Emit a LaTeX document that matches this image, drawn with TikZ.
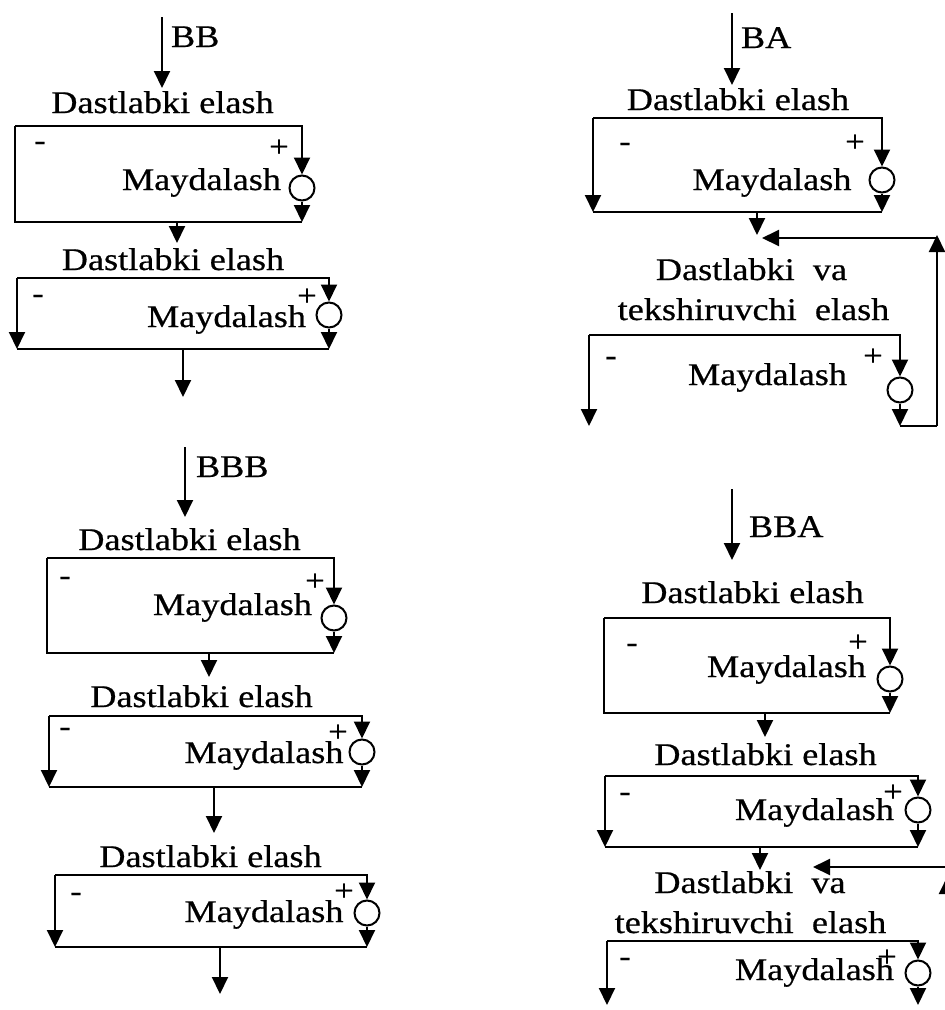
\documentclass[tikz,border=0pt]{standalone}
\usepackage{fontspec}
\setmainfont{Liberation Serif}[FakeStretch=1.15,FakeBold=0.6]
\usetikzlibrary{arrows.meta}

% One crushing stage: top feed line to the crusher valve on the right,
% valve outlet arrow down to the bottom level.
% #1 name, #2 left x, #3 right x, #4 top y, #5 valve y, #6 bottom y
\newcommand\mdunit[6]{%
  \coordinate (#1-tl) at (#2,#4);
  \coordinate (#1-tr) at (#3,#4);
  \coordinate (#1-bl) at (#2,#6);
  \coordinate (#1-br) at (#3,#6);
  \node[valve] (#1-c) at (#3,#5) {};
  \draw[flow] (#1-tl) -- (#1-tr) -- (#1-c.north);
  \draw[flow] (#1-c.south) -- (#1-br);
}

\begin{document}
\begin{tikzpicture}[x=1pt,y=-1pt,
  line width=2pt,
  flow/.style={-{Triangle[width=16pt,length=17pt]}},
  valve/.style={draw,circle,minimum size=25pt,inner sep=0pt},
  txt/.style={inner sep=0pt,anchor=base,font=\fontsize{31.5}{36}\selectfont},
  pm/.style={inner sep=0pt,font=\fontsize{30}{32}\selectfont},
]
\useasboundingbox (0,0) rectangle (945,1010);
\clip (0,0) rectangle (945,1010);

% ---------------- BB ----------------
\coordinate (bb-in) at (162,17);
\coordinate (bb-ine) at (162,88);
\draw[flow] (bb-in) -- (bb-ine);
\node[txt,anchor=base west] (bb-lbl) at (170,47) {BB};
\node[txt] (bb-d1) at (162.5,113) {Dastlabki elash};
\mdunit{bb1}{15}{302}{126}{188}{222}
\draw (bb1-tl) -- (bb1-bl) -- (bb1-br);
\node[pm] (bb1-minus) at (40,146) {-};
\node[pm] (bb1-plus) at (279,148) {+};
\node[txt] (bb1-m) at (201.5,190) {Maydalash};
\coordinate (bb-j1) at (177,222);
\coordinate (bb-j1e) at (177,243);
\draw[flow] (bb-j1) -- (bb-j1e);
\node[txt] (bb-d2) at (173,270) {Dastlabki elash};
\mdunit{bb2}{17}{329}{278}{315}{349}
\draw[flow] (bb2-tl) -- (bb2-bl);
\draw (bb2-bl) -- (bb2-br);
\node[pm] (bb2-minus) at (38,299) {-};
\node[pm] (bb2-plus) at (307,297) {+};
\node[txt] (bb2-m) at (226.5,327) {Maydalash};
\coordinate (bb-out) at (183,349);
\coordinate (bb-oute) at (183,397);
\draw[flow] (bb-out) -- (bb-oute);

% ---------------- BA ----------------
\coordinate (ba-in) at (732,13);
\coordinate (ba-ine) at (732,85);
\draw[flow] (ba-in) -- (ba-ine);
\node[txt,anchor=base west] (ba-lbl) at (740,48) {BA};
\node[txt] (ba-d1) at (738,110) {Dastlabki elash};
\mdunit{ba1}{593}{882}{118}{180}{212}
\draw[flow] (ba1-tl) -- (ba1-bl);
\draw (ba1-bl) -- (ba1-br);
\node[pm] (ba1-minus) at (625,147) {-};
\node[pm] (ba1-plus) at (855,143) {+};
\node[txt] (ba1-m) at (772,190) {Maydalash};
\coordinate (ba-j1) at (757,212);
\coordinate (ba-j1e) at (757,235);
\draw[flow] (ba-j1) -- (ba-j1e);
\node[txt] (ba-d2a) at (751.5,280) {Dastlabki\ \ va};
\node[txt] (ba-d2b) at (753.5,320) {tekshiruvchi\ \ elash};
\mdunit{ba2}{589}{900}{335}{390}{426}
\draw[flow] (ba2-tl) -- (ba2-bl);
\node[pm,font=\fontsize{30}{32}\selectfont\bfseries] (ba2-minus) at (611,361) {-};
\node[pm] (ba2-plus) at (873,357) {+};
\node[txt] (ba2-m) at (767.5,385) {Maydalash};
% recirculation back to the screen feed
\coordinate (ba-r1) at (937,426);
\coordinate (ba-r2) at (937,235);
\coordinate (ba-r3) at (937,238);
\coordinate (ba-r4) at (762,238);
\draw (ba2-br) -- (ba-r1);
\draw[flow] (ba-r1) -- (ba-r2);
\draw[flow] (ba-r3) -- (ba-r4);

% ---------------- BBB ----------------
\coordinate (bbb-in) at (185,447);
\coordinate (bbb-ine) at (185,517);
\draw[flow] (bbb-in) -- (bbb-ine);
\node[txt,anchor=base west] (bbb-lbl) at (195,477) {BBB};
\node[txt] (bbb-d1) at (189.5,550) {Dastlabki elash};
\mdunit{bbb1}{47}{334}{558}{618}{653}
\draw (bbb1-tl) -- (bbb1-bl) -- (bbb1-br);
\node[pm] (bbb1-minus) at (65,581) {-};
\node[pm] (bbb1-plus) at (315,582) {+};
\node[txt] (bbb1-m) at (232.5,615) {Maydalash};
\coordinate (bbb-j1) at (209,653);
\coordinate (bbb-j1e) at (209,677);
\draw[flow] (bbb-j1) -- (bbb-j1e);
\node[txt] (bbb-d2) at (201.5,707) {Dastlabki elash};
\mdunit{bbb2}{49}{362}{716}{752}{787}
\draw[flow] (bbb2-tl) -- (bbb2-bl);
\draw (bbb2-bl) -- (bbb2-br);
\node[pm] (bbb2-minus) at (65,732) {-};
\node[pm] (bbb2-plus) at (338,733) {+};
\node[txt] (bbb2-m) at (264,763) {Maydalash};
\coordinate (bbb-j2) at (214,787);
\coordinate (bbb-j2e) at (214,833);
\draw[flow] (bbb-j2) -- (bbb-j2e);
\node[txt] (bbb-d3) at (210.5,867) {Dastlabki elash};
\mdunit{bbb3}{55}{367}{875}{913}{947}
\draw[flow] (bbb3-tl) -- (bbb3-bl);
\draw (bbb3-bl) -- (bbb3-br);
\node[pm] (bbb3-minus) at (76,897) {-};
\node[pm] (bbb3-plus) at (344,892) {+};
\node[txt] (bbb3-m) at (264,922) {Maydalash};
\coordinate (bbb-out) at (220,947);
\coordinate (bbb-oute) at (220,994);
\draw[flow] (bbb-out) -- (bbb-oute);

% ---------------- BBA ----------------
\coordinate (bba-in) at (732,489);
\coordinate (bba-ine) at (732,560);
\draw[flow] (bba-in) -- (bba-ine);
\node[txt,anchor=base west] (bba-lbl) at (748,537) {BBA};
\node[txt] (bba-d1) at (752.5,603) {Dastlabki elash};
\mdunit{bba1}{604}{890}{618}{679}{713}
\draw (bba1-tl) -- (bba1-bl) -- (bba1-br);
\node[pm] (bba1-minus) at (632,648) {-};
\node[pm] (bba1-plus) at (858,643) {+};
\node[txt] (bba1-m) at (786.5,677) {Maydalash};
\coordinate (bba-j1) at (765,713);
\coordinate (bba-j1e) at (765,737);
\draw[flow] (bba-j1) -- (bba-j1e);
\node[txt] (bba-d2) at (765.5,765) {Dastlabki elash};
\mdunit{bba2}{605}{918}{776}{810}{847}
\draw[flow] (bba2-tl) -- (bba2-bl);
\draw (bba2-bl) -- (bba2-br);
\node[pm] (bba2-minus) at (625,797) {-};
\node[pm] (bba2-plus) at (893,793) {+};
\node[txt] (bba2-m) at (814.5,820) {Maydalash};
\coordinate (bba-j2) at (760,847);
\coordinate (bba-j2e) at (760,870);
\draw[flow] (bba-j2) -- (bba-j2e);
% recirculation back to the screen feed
\coordinate (bba-r1) at (947,1030);
\coordinate (bba-r2) at (947,877);
\coordinate (bba-r3) at (947,867);
\coordinate (bba-r4) at (813,867);
\draw[flow] (bba-r1) -- (bba-r2);
\draw[flow] (bba-r3) -- (bba-r4);
\node[txt] (bba-d3a) at (750,893) {Dastlabki\ \ va};
\node[txt] (bba-d3b) at (750.5,933) {tekshiruvchi\ \ elash};
\mdunit{bba3}{607}{918}{941}{973}{1005}
\draw[flow] (bba3-tl) -- (bba3-bl);
\node[pm] (bba3-minus) at (625,962) {-};
\node[pm] (bba3-plus) at (887,958) {+};
\node[txt] (bba3-m) at (814.5,980) {Maydalash};
\end{tikzpicture}
\end{document}
